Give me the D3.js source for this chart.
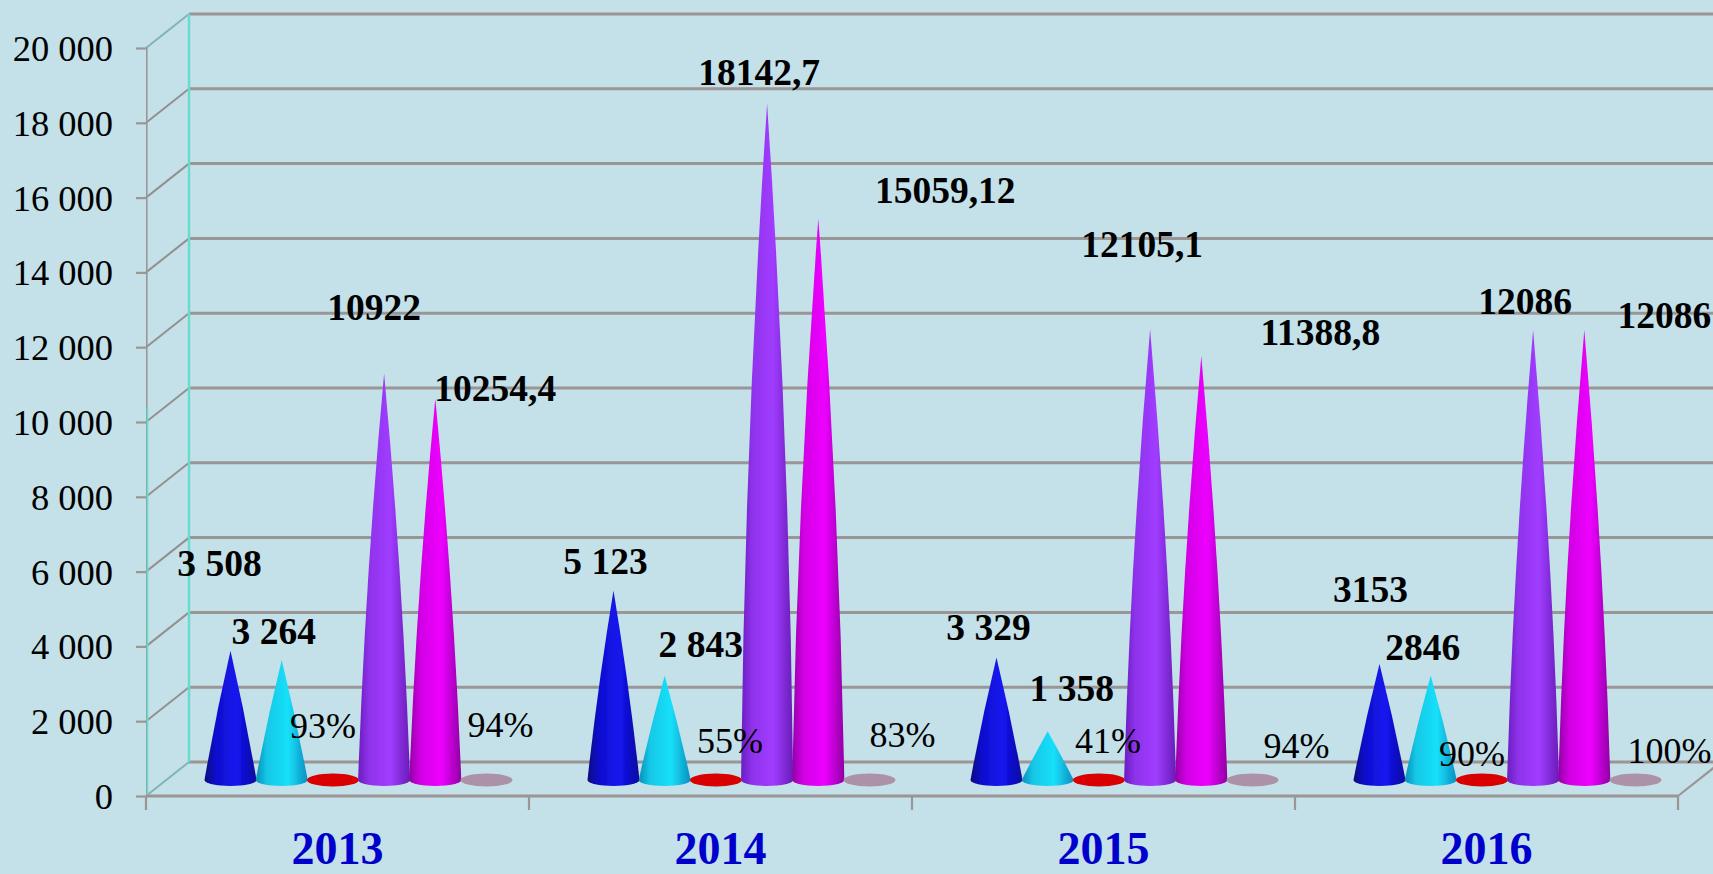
<!DOCTYPE html>
<html><head><meta charset="utf-8">
<script src="https://cdnjs.cloudflare.com/ajax/libs/d3/7.8.5/d3.min.js"></script>
<style>html,body{margin:0;padding:0;background:#c4e0e9;overflow:hidden}svg{display:block}text{font-family:"Liberation Serif",serif}</style>
</head><body><svg id="c" width="1713" height="874"></svg>
<script>
const categories = ["2013","2014","2015","2016"];
const seriesNames = ["s1","s2","s3","s4","s5","s6"];
const s1 = [3508,5123,3329,3153];
const s2 = [3264,2843,1358,2846];
const s3 = [93,55,41,90];
const s4 = [10922,18142.7,12105.1,12086];
const s5 = [10254.4,15059.12,11388.8,12086];
const s6 = [94,83,94,100];
const s1Labels = ["3 508","5 123","3 329","3153"];
const s2Labels = ["3 264","2 843","1 358","2846"];
const s3Labels = ["93%","55%","41%","90%"];
const s4Labels = ["10922","18142,7","12105,1","12086"];
const s5Labels = ["10254,4","15059,12","11388,8","12086"];
const s6Labels = ["94%","83%","94%","100%"];
const yTicks = [0,2000,4000,6000,8000,10000,12000,14000,16000,18000,20000];
const seriesColors = [
  ["#06067e","#1414f0","#08089c"],
  ["#0a8fbc","#18e0fa","#0a8fc0"],
  ["#b00000","#d80000","#b00000"],
  ["#6a1ec0","#a03cff","#681cb8"],
  ["#9400a8","#ee00ff","#9000a4"],
  ["#9c8498","#ac92a8","#9c8498"]
];
// hand placement of the labels, relative to each cone's tip
const labelDx = [[-11,-8,-8,-9],[-8,36,24,-8],[-10,14,9,-10],[-10,-8,-8,-8],[60,127,119,80],[14,33,44,34]];
const labelDy = [[-75,-16,-17,-62],[-16,-19,-30,-16],[-41,-27,-27,-13],[-54,-18,-72,-16],[3,-16,-11,-2],[-41,-32,-20,-15]];

const series = [s1,s2,s3,s4,s5,s6];
const labels = [s1Labels,s2Labels,s3Labels,s4Labels,s5Labels,s6Labels];

const X0=146, X1=1678, Y0=796, Y1=48, DX=43, DY=-34, MIDX=21, MIDY=-14;
const svg = d3.select("#c");
svg.append("rect").attr("width",1713).attr("height",874).attr("fill","#c4e0e9");
const defs = svg.append("defs");
const soft = defs.append("filter").attr("id","soft").attr("filterUnits","userSpaceOnUse").attr("x",0).attr("y",0).attr("width",1713).attr("height",874);
soft.append("feGaussianBlur").attr("stdDeviation",0.6);

const y = d3.scaleLinear().domain([0,20000]).range([Y0,Y1]);
const x = d3.scaleBand().domain(categories).range([X0,X1]);
const xs = d3.scaleBand().domain(seriesNames).range([0,6*51.2]);
const groupOffset = (x.bandwidth()-xs.range()[1])/2 + MIDX;

const GRID="#9b9696";
const grid = svg.append("g").attr("filter","url(#soft)");
// back-wall gridlines
grid.selectAll(".g").data(yTicks).join("line")
  .attr("x1",X0+DX).attr("x2",1713).attr("y1",d=>y(d)+DY).attr("y2",d=>y(d)+DY)
  .attr("stroke",GRID).attr("stroke-width",3);
// side-wall diagonals
grid.selectAll(".d").data(yTicks).join("line")
  .attr("x1",X0).attr("x2",X0+DX).attr("y1",d=>y(d)).attr("y2",d=>y(d)+DY)
  .attr("stroke",d=>d===20000||d===0?"#80b4b4":"#94908f").attr("stroke-width",2);
// right floor diagonal
grid.append("line").attr("x1",X1).attr("x2",X1+DX).attr("y1",Y0).attr("y2",Y0+DY).attr("stroke",GRID).attr("stroke-width",2.2);
// back wall edge
grid.append("line").attr("x1",X0+DX).attr("x2",X0+DX).attr("y1",y(20000)+DY).attr("y2",Y0+DY).attr("stroke","#66dccc").attr("stroke-width",2.4);

// y axis
const yAxis = d3.axisLeft(y).tickValues(yTicks).tickSize(10).tickPadding(23)
  .tickFormat(d=>d3.format(",")(d).replace(/,/g," "));
const gy = svg.append("g").attr("transform",`translate(${X0},0)`).call(yAxis);
gy.select(".domain").attr("stroke",GRID).attr("stroke-width",2.2).attr("filter","url(#soft)");
gy.selectAll(".tick line").attr("stroke",GRID).attr("stroke-width",2.2);
gy.selectAll(".tick text").attr("font-size",36.5).attr("fill","#000").attr("dy",12.5).style("font-family",'"Liberation Serif",serif');
// teal edge running beside the lower part of the front axis
svg.append("line").attr("x1",X0+1.5).attr("x2",X0+1.5).attr("y1",y(10400)).attr("y2",y(0))
  .attr("stroke","#66dccc").attr("stroke-width",1.6).attr("filter","url(#soft)");

// x axis
const gx = svg.append("g").attr("filter","url(#soft)");
gx.append("line").attr("x1",X0).attr("x2",X1).attr("y1",Y0).attr("y2",Y0).attr("stroke",GRID).attr("stroke-width",3);
gx.selectAll(".t").data(categories.concat(["end"])).join("line")
  .attr("x1",(d,i)=>X0+i*x.step()).attr("x2",(d,i)=>X0+i*x.step())
  .attr("y1",Y0).attr("y2",Y0+14).attr("stroke",GRID).attr("stroke-width",2.2);
svg.append("g").selectAll("text").data(categories).join("text")
  .attr("x",d=>x(d)+x.bandwidth()/2).attr("y",864).attr("text-anchor","middle")
  .attr("font-size",46).attr("font-weight","bold").attr("fill","#0000cc").text(d=>d);

// cones
const RX=26, RY=6;
seriesColors.forEach((c,i)=>{
  const g=defs.append("linearGradient").attr("id","grad"+i).attr("x1",0).attr("x2",1).attr("y1",0).attr("y2",0);
  g.append("stop").attr("offset","0%").attr("stop-color",c[0]);
  g.append("stop").attr("offset","22%").attr("stop-color",d3.interpolateRgb(c[0],c[1])(0.7));
  g.append("stop").attr("offset","62%").attr("stop-color",c[1]);
  g.append("stop").attr("offset","100%").attr("stop-color",c[2]);
});
const base = y(0)+MIDY-2;
const cones = svg.append("g").attr("filter","url(#soft)");
categories.forEach((cat,ci)=>{
  seriesNames.forEach((sn,si)=>{
    const cx = x(cat)+groupOffset+xs(sn)+xs.bandwidth()/2;
    const tip = y(series[si][ci])+MIDY;
    const h = base-tip;
    if(h<12){
      cones.append("ellipse").attr("cx",cx).attr("cy",base).attr("rx",RX).attr("ry",RY+0.5)
        .attr("fill",seriesColors[si][1]);
    } else {
      const bow = h*0.014, my = (tip+base)/2;
      cones.append("path")
        .attr("d",`M${cx},${tip}Q${cx+RX/2+bow},${my} ${cx+RX},${base}A${RX},${RY} 0 0 1 ${cx-RX},${base}Q${cx-RX/2-bow},${my} ${cx},${tip}Z`)
        .attr("fill",`url(#grad${si})`);
    }
  });
});

// labels
categories.forEach((cat,ci)=>{
  seriesNames.forEach((sn,si)=>{
    const cx = x(cat)+groupOffset+xs(sn)+xs.bandwidth()/2;
    const tip = y(series[si][ci])+MIDY;
    const pct = si===2||si===5;
    svg.append("text").attr("x",cx+labelDx[si][ci]).attr("y",tip+labelDy[si][ci])
      .attr("text-anchor","middle").attr("font-size",pct?36:37.5)
      .attr("font-weight",pct?"normal":"bold").attr("fill","#000").text(labels[si][ci]);
  });
});
</script></body></html>
